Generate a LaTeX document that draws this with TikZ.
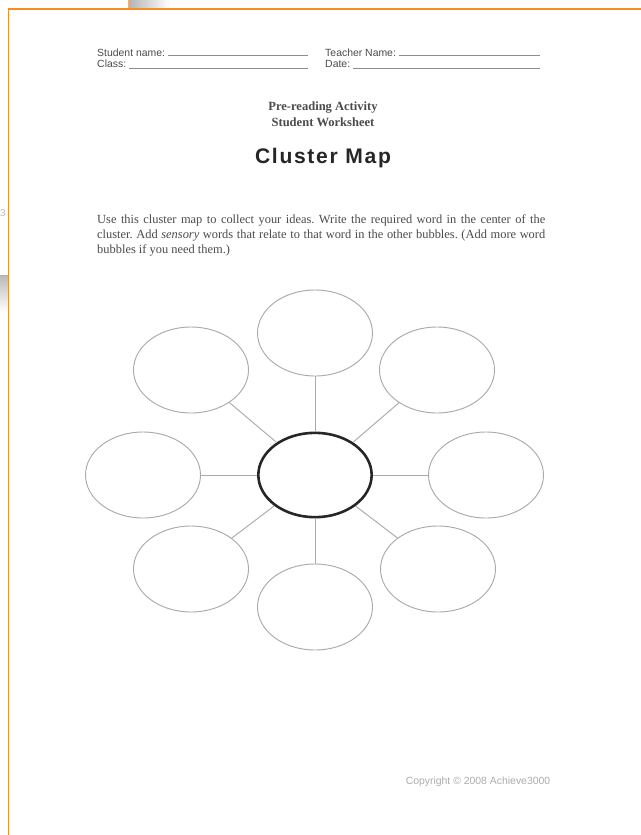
\documentclass[tikz,border=0pt]{standalone}
\usepackage{fontspec}
\setmainfont{Liberation Serif}
\setsansfont{Liberation Sans}
\newfontfamily\headfont{Liberation Sans}[LetterSpace=8]
\usepackage{xcolor}
\definecolor{pageorange}{RGB}{246,140,40}
\definecolor{inkgray}{RGB}{75,75,75}
\definecolor{bubblegray}{RGB}{170,170,170}
\usetikzlibrary{shapes.geometric,positioning}
\frenchspacing

\begin{document}
\begin{tikzpicture}[
  x=0.03cm, y=-0.03cm,
  bubble/.style={draw=bubblegray, ellipse, minimum width=3.45cm, minimum height=2.58cm, inner sep=0pt, line width=0.8pt},
  hub/.style={draw=black!85, ellipse, minimum width=3.4cm, minimum height=2.53cm, inner sep=0pt, line width=2.2pt},
  spoke/.style={draw=bubblegray, line width=0.8pt},
  field/.style={font=\sffamily\fontsize{8.9}{10}\selectfont, text=inkgray, inner sep=0pt, anchor=west},
  blank/.style={draw=black!45, line width=0.5pt}
]
\useasboundingbox (0,0) rectangle (641,835);
\fill[white] (0,0) rectangle (641,835);

% pages behind
\shade[left color=gray!60, right color=white] (128,0) rectangle (170,8);
\draw[pageorange!70, line width=0.8pt] (128,0) -- (128,8);
\shade[top color=gray!55, bottom color=white] (0,275) rectangle (7.5,312);
\draw[pageorange!80, line width=0.8pt] (0,275) -- (8,275);
\node[font=\sffamily\fontsize{8.5}{9}\selectfont, text=gray!55, inner sep=0pt, anchor=east] (pageno) at (6,213) {3};

% page edge
\draw[pageorange, line width=1.7pt] (641,9) -- (8.5,9) -- (8.5,835);

% header fields
\node[field] (sname) at (97,52.5) {Student name:};
\node[field] (class) at (97,64) {Class:};
\node[field] (tname) at (325,52.5) {Teacher Name:};
\node[field] (date) at (325,64) {Date:};
\draw[blank] (168,55.5) -- (308,55.5);
\draw[blank] (129,68) -- (308,68);
\draw[blank] (399,55.5) -- (540,55.5);
\draw[blank] (353,68) -- (540,68);

% titles
\node[font=\bfseries\fontsize{10.7}{13.3}\selectfont, text=inkgray, align=center, inner sep=0pt] (sub) at (323,114) {Pre-reading Activity\\Student Worksheet};
\node[font=\headfont\bfseries\fontsize{18}{20}\selectfont, text=black!85, inner sep=0pt] (title) at (323,158) {Cluster Map};

\node[font=\fontsize{10.6}{12.8}\selectfont, text=inkgray, align=justify, text width=13.44cm, inner sep=0pt, anchor=north west] (intro) at (97,215)
  {Use this cluster map to collect your ideas. Write the required word in the center of the\linebreak
   cluster. Add \textit{sensory} words that relate to that word in the other bubbles. (Add more word\linebreak
   bubbles if you need them.)};

% cluster
\node[bubble] (top) at (315,333) {};
\node[bubble] (upleft) at (191,370) {};
\node[bubble] (upright) at (437,370) {};
\node[bubble] (left) at (143,475) {};
\node[bubble] (right) at (486,475) {};
\node[bubble] (lowleft) at (191,569) {};
\node[bubble] (lowright) at (438,569) {};
\node[bubble] (bottom) at (315,607) {};
\node[hub] (core) at (315,475) {};

\draw[spoke] (core) -- (top);
\draw[spoke] (core) -- (upleft);
\draw[spoke] (core) -- (upright);
\draw[spoke] (core) -- (left);
\draw[spoke] (core) -- (right);
\draw[spoke] (core) -- (lowleft);
\draw[spoke] (core) -- (lowright);
\draw[spoke] (core) -- (bottom);

\node[font=\sffamily\fontsize{8.9}{10}\selectfont, text=gray!65, inner sep=0pt] (copy) at (478,782) {Copyright \textcopyright{} 2008 Achieve3000};
\end{tikzpicture}
\end{document}
